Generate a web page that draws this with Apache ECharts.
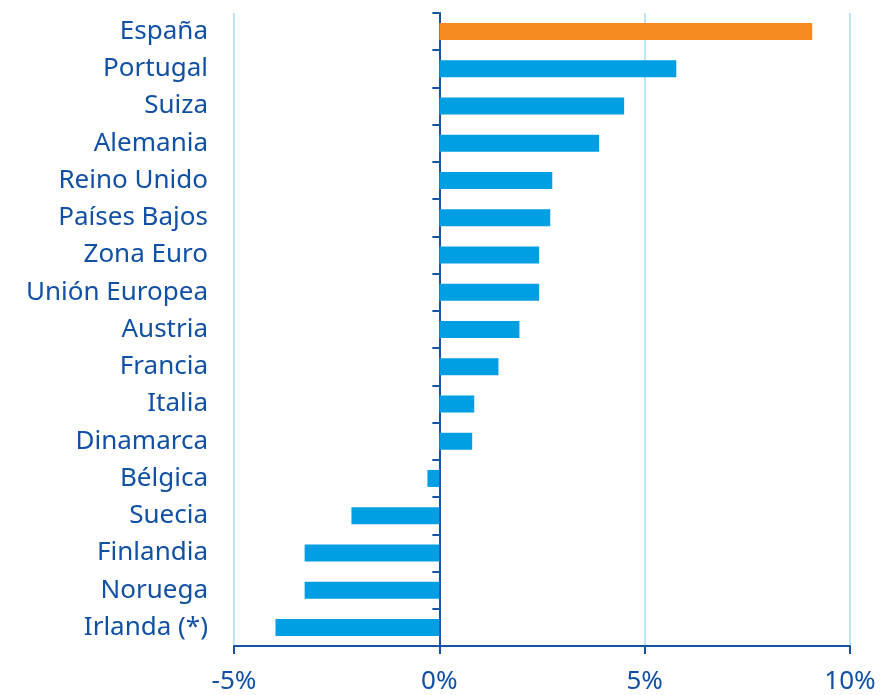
<!DOCTYPE html>
<html>
<head>
<meta charset="utf-8">
<script src="https://cdn.jsdelivr.net/npm/echarts@6/dist/echarts.min.js"></script>
<style>
html,body{margin:0;padding:0;background:#fff;}
#chart{width:882px;height:695px;}
</style>
</head>
<body>
<div id="chart"></div>
<script>
const categories = ['España','Portugal','Suiza','Alemania','Reino Unido','Países Bajos','Zona Euro','Unión Europea','Austria','Francia','Italia','Dinamarca','Bélgica','Suecia','Finlandia','Noruega','Irlanda (*)'];
const values = [9.08, 5.77, 4.5, 3.89, 2.75, 2.7, 2.43, 2.43, 1.95, 1.44, 0.85, 0.8, -0.29, -2.14, -3.28, -3.28, -3.99];
const highlight = 'España';

const TEXT = '#1050a5';
const AXIS = '#1652a6';
const FONT = 'Noto Sans';

const chart = echarts.init(document.getElementById('chart'), null, {renderer: 'canvas'});
chart.setOption({
  animation: false,
  backgroundColor: '#ffffff',
  grid: {left: 234, right: 32, top: 13, bottom: 48, containLabel: false},
  xAxis: {
    type: 'value', min: -5, max: 10, interval: 5,
    axisLine: {show: true, onZero: false, lineStyle: {color: AXIS, width: 2}},
    axisTick: {show: true, length: 8, lineStyle: {color: AXIS, width: 2}},
    axisLabel: {formatter: '{value}%', color: TEXT, fontSize: 26, fontFamily: FONT, margin: 23},
    splitLine: {show: true, lineStyle: {color: '#bde6f7', width: 2}}
  },
  yAxis: [
    {
      type: 'category', data: categories, inverse: true,
      axisLine: {show: true, onZero: true, lineStyle: {color: AXIS, width: 2}},
      axisTick: {show: true, length: 7, lineStyle: {color: AXIS, width: 2}},
      axisLabel: {show: false},
      splitLine: {show: false}
    },
    {
      type: 'category', data: categories, inverse: true, position: 'left',
      axisLine: {show: false, onZero: false},
      axisTick: {show: false},
      axisLabel: {show: true, color: TEXT, fontSize: 26, fontFamily: FONT, margin: 26},
      splitLine: {show: false}
    }
  ],
  series: [{
    type: 'bar',
    yAxisIndex: 0,
    data: values,
    barWidth: 17,
    itemStyle: {
      color: function (p) { return p.name === highlight ? '#f68b1f' : '#009fe3'; }
    }
  }]
});
</script>
</body>
</html>
